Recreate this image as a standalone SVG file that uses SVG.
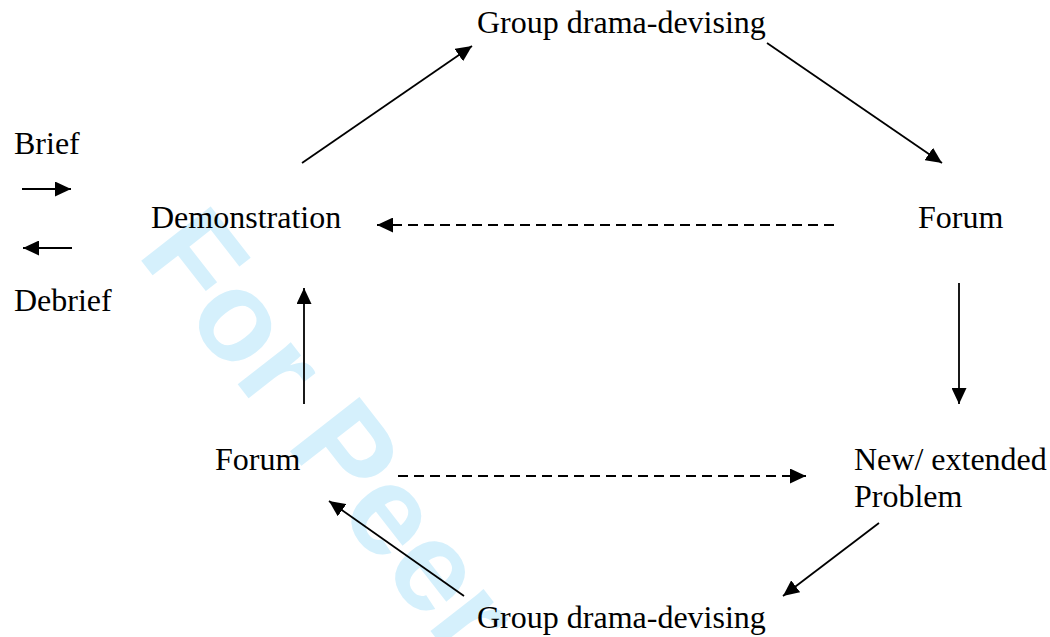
<svg xmlns="http://www.w3.org/2000/svg" width="1050" height="637" viewBox="0 0 1050 637">
<style>
.lbl{font-family:"Liberation Serif","Times New Roman",serif;font-size:32px;fill:#000}
.wm{font-family:"Liberation Sans",Arial,sans-serif;font-weight:bold;font-size:128px;fill:#d5f0fc}
.ln{stroke:#000;stroke-width:1.8;fill:none;marker-end:url(#ah)}
.dash{stroke-dasharray:10,6}
</style>
<defs>
<marker id="ah" markerUnits="userSpaceOnUse" markerWidth="17" markerHeight="15" refX="16" refY="7.5" orient="auto" viewBox="0 0 17 15">
<path d="M0,0 L16,7.5 L0,15 z" fill="#000"/>
</marker>
</defs>
<rect width="1050" height="637" fill="#fff"/>
<text class="wm" transform="translate(136,254) rotate(52)">For Peer</text>
<g id="connectors">
<line class="ln" x1="22" y1="189" x2="71" y2="189"/>
<line class="ln" x1="72" y1="248" x2="23" y2="248"/>
<line class="ln" x1="302" y1="163" x2="472" y2="46"/>
<line class="ln" x1="767" y1="43" x2="942" y2="163"/>
<line class="ln dash" x1="834" y1="225" x2="377" y2="225"/>
<line class="ln" x1="959" y1="283" x2="959" y2="404"/>
<line class="ln" x1="879" y1="523" x2="783" y2="596"/>
<line class="ln" x1="464" y1="596" x2="329" y2="501"/>
<line class="ln dash" x1="398" y1="476" x2="806" y2="476"/>
<line class="ln" x1="304" y1="404" x2="304" y2="288"/>
</g>
<g id="brief"><text class="lbl" x="14" y="154">Brief</text></g>
<g id="debrief"><text class="lbl" x="14" y="311">Debrief</text></g>
<g id="group-top"><text class="lbl" x="477" y="33">Group drama-devising</text></g>
<g id="demonstration"><text class="lbl" x="151" y="228">Demonstration</text></g>
<g id="forum-right"><text class="lbl" x="918" y="228">Forum</text></g>
<g id="forum-left"><text class="lbl" x="215" y="470">Forum</text></g>
<g id="new-problem"><text class="lbl" x="854" y="470">New/ extended</text><text class="lbl" x="854" y="507">Problem</text></g>
<g id="group-bottom"><text class="lbl" x="477" y="628">Group drama-devising</text></g>
</svg>
